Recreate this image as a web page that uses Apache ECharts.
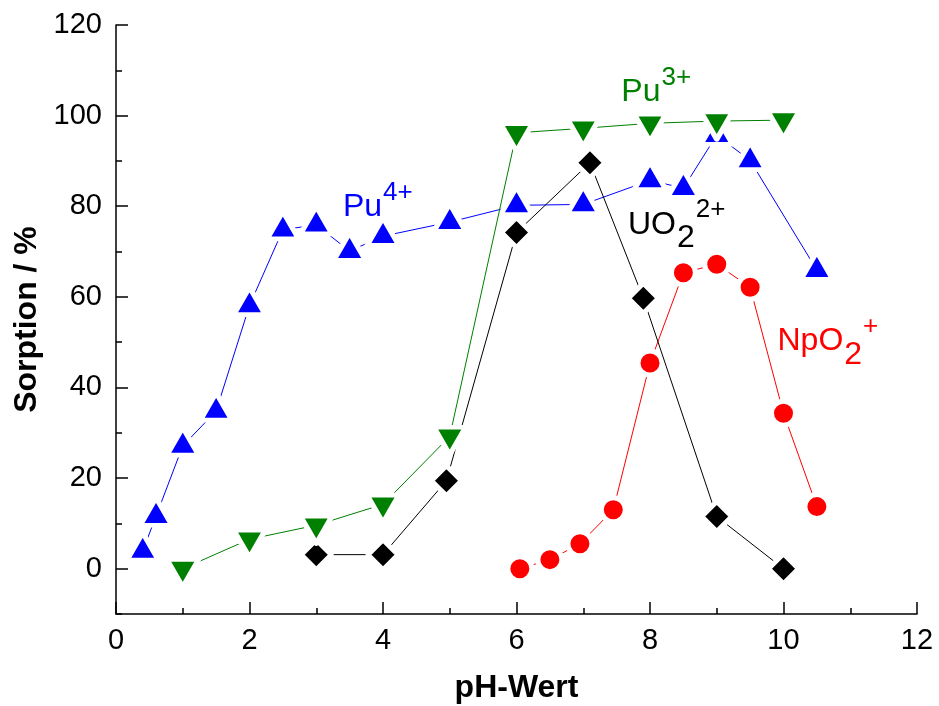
<!DOCTYPE html>
<html>
<head>
<meta charset="utf-8">
<script src="https://cdn.jsdelivr.net/npm/echarts@6/dist/echarts.min.js"></script>
<style>
html,body{margin:0;padding:0;background:#fff;}
#chart{width:939px;height:706px;}
</style>
</head>
<body>
<div id="chart"></div>
<script>
// ---- data ----
const pu4X = [0.4, 0.6, 1.0, 1.5, 2.0, 2.5, 3.0, 3.5, 4.0, 5.0, 6.0, 7.0, 8.0, 8.5, 9.0, 9.5, 10.5];
const pu4Y = [3.9, 11.6, 27.1, 34.8, 58.1, 74.8, 75.9, 70.1, 73.4, 76.5, 80.2, 80.4, 85.7, 84.0, 95.7, 90.1, 65.9];
const pu3X = [1, 2, 3, 4, 5, 6, 7, 8, 9, 10];
const pu3Y = [0, 6.5, 9.6, 14.2, 29.2, 96.2, 97.2, 98.3, 98.8, 99.0];
const uo2X = [3.0, 4.0, 4.95, 6.0, 7.1, 7.9, 9.0, 10.0];
const uo2Y = [3.1, 3.1, 19.4, 74.2, 89.6, 59.7, 11.5, 0];
const npX = [6.05, 6.5, 6.95, 7.45, 8.0, 8.5, 9.0, 9.5, 10.0, 10.5];
const npY = [0, 2.0, 5.5, 13.0, 45.4, 65.3, 67.2, 62.1, 34.3, 13.7];
const yMajorTicks = [0, 20, 40, 60, 80, 100, 120];
const xTitle = 'pH-Wert';
const yTitle = 'Sorption / %';
// annotations: main text, subscript, superscript, anchor (pH, value) at left / cap-centre
const annPu4 = { main: 'Pu', sub: '', sup: '4+', x: 3.40, y: 79.8, color: '#0000ff' };
const annPu3 = { main: 'Pu', sub: '', sup: '3+', x: 7.57, y: 105.2, color: '#008000' };
const annUO2 = { main: 'UO', sub: '2', sup: '2+', x: 7.67, y: 75.9, color: '#000000' };
const annNp = { main: 'NpO', sub: '2', sup: '+', x: 9.91, y: 50.2, color: '#ff0000' };

const FONT = "'Liberation Sans', Arial, Helvetica, sans-serif";
const zip = (xs, ys) => xs.map((x, i) => [x, ys[i]]);

const chart = echarts.init(document.getElementById('chart'), null, { renderer: 'canvas' });
const axisLineStyle = { color: '#000', width: 1.5 };
// white halo around markers (mimics the line gaps of the original)
const HALO = 5;
const triSize = [31.6, 27.5];     // outer path so that the inner coloured part is ~23x20
const triOff = 4.6;               // centre the triangle on its centroid
const diaSize = 30;               // inner coloured diamond ~23
const cirSize = 19 + HALO;

const option = {
  backgroundColor: '#fff',
  animation: false,
  grid: { left: 116, right: 22, top: 25, bottom: 92, containLabel: false, outerBoundsMode: 'none' },
  xAxis: {
    type: 'value', min: 0, max: 12, interval: 2,
    name: xTitle, nameLocation: 'middle', nameGap: 74,
    nameTextStyle: { fontFamily: FONT, fontSize: 32, fontWeight: 'bold', color: '#000', verticalAlign: 'middle' },
    axisLine: { show: true, onZero: false, lineStyle: axisLineStyle },
    axisTick: { show: true, inside: true, length: 12, lineStyle: { color: '#000', width: 1.5 } },
    minorTick: { show: true, splitNumber: 2, length: 6, lineStyle: { color: '#000', width: 1.5 } },
    axisLabel: { fontFamily: FONT, fontSize: 29, color: '#000', margin: 27, verticalAlign: 'middle' },
    splitLine: { show: false }
  },
  yAxis: [{
    type: 'value', min: -10, max: 120,
    name: yTitle, nameLocation: 'middle', nameGap: 89,
    nameTextStyle: { fontFamily: FONT, fontSize: 32, fontWeight: 'bold', color: '#000', verticalAlign: 'middle' },
    axisLine: { show: true, onZero: false, lineStyle: axisLineStyle },
    axisTick: { show: true, inside: true, length: 12, customValues: yMajorTicks, lineStyle: { color: '#000', width: 1.5 } },
    axisLabel: { fontFamily: FONT, fontSize: 29, color: '#000', margin: 14, customValues: yMajorTicks },
    splitLine: { show: false }
  }, {
    type: 'value', min: -10, max: 120, interval: 20, position: 'left',
    axisLine: { show: false },
    axisTick: { show: true, inside: true, length: 6, lineStyle: { color: '#000', width: 1.5 } },
    axisLabel: { show: false },
    splitLine: { show: false }
  }],
  series: [
    {
      name: 'Pu4+', type: 'line', data: zip(pu4X, pu4Y),
      symbol: 'triangle', symbolSize: triSize, symbolOffset: [0, -triOff],
      lineStyle: { color: '#0000ff', width: 1 },
      itemStyle: { color: '#0000ff', borderColor: '#fff', borderWidth: HALO, borderJoin: 'round' }, z: 2
    },
    {
      name: 'NpO2+', type: 'line', data: zip(npX, npY),
      symbol: 'circle', symbolSize: cirSize,
      lineStyle: { color: '#ff0000', width: 1 },
      itemStyle: { color: '#ff0000', borderColor: '#fff', borderWidth: HALO }, z: 3
    },
    {
      name: 'UO22+', type: 'line', data: zip(uo2X, uo2Y),
      symbol: 'diamond', symbolSize: diaSize,
      lineStyle: { color: '#000000', width: 1 },
      itemStyle: { color: '#000000', borderColor: '#fff', borderWidth: HALO, borderJoin: 'round' }, z: 4
    },
    {
      name: 'Pu3+', type: 'line', data: zip(pu3X, pu3Y),
      symbol: 'triangle', symbolRotate: 180, symbolSize: triSize, symbolOffset: [0, triOff],
      lineStyle: { color: '#008000', width: 1 },
      itemStyle: { color: '#008000', borderColor: '#fff', borderWidth: HALO, borderJoin: 'round' }, z: 5
    }
  ]
};
chart.setOption(option);

// annotations with sub/superscripts
const ctx = document.createElement('canvas').getContext('2d');
function tw(text, size) { ctx.font = size + 'px ' + FONT; return ctx.measureText(text).width; }
function buildAnn(a) {
  const p = chart.convertToPixel({ gridIndex: 0 }, [a.x, a.y]);
  const els = [];
  const MAIN = 32, SUP = 26;
  let x = p[0];
  els.push({ type: 'text', x: x, y: p[1], style: { text: a.main, fill: a.color, font: MAIN + 'px ' + FONT, verticalAlign: 'middle', align: 'left' } });
  x += tw(a.main, MAIN);
  if (a.sub) {
    els.push({ type: 'text', x: x + 1, y: p[1] + 13.5, style: { text: a.sub, fill: a.color, font: MAIN + 'px ' + FONT, verticalAlign: 'middle', align: 'left' } });
    x += tw(a.sub, MAIN) + 1;
  }
  if (a.sup) {
    els.push({ type: 'text', x: x + 1, y: p[1] - 14.5, style: { text: a.sup, fill: a.color, font: SUP + 'px ' + FONT, verticalAlign: 'middle', align: 'left' } });
  }
  return els;
}
chart.setOption({ graphic: [].concat(buildAnn(annPu4), buildAnn(annPu3), buildAnn(annUO2), buildAnn(annNp)) });
</script>
</body>
</html>
